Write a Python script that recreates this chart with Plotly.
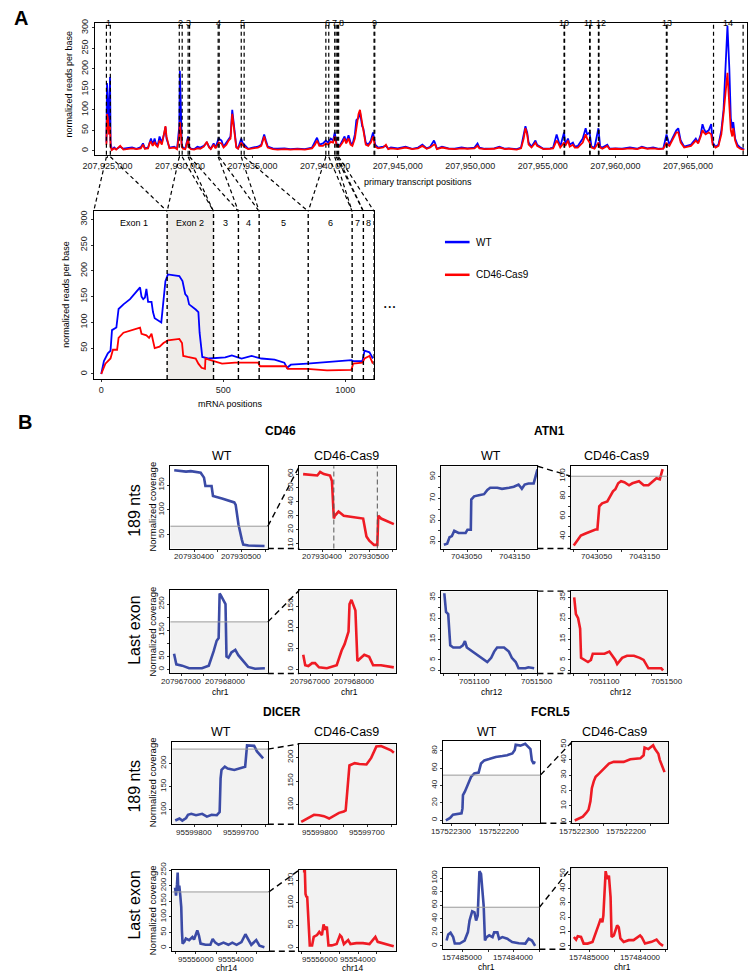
import plotly.graph_objects as go

W, H = 750, 974
FONT = "Liberation Sans, Arial, sans-serif"
BLUE_A = "#0000ff"
RED_A = "#ff0000"
BLUE_B = "#3b4ba6"
RED_B = "#ef1b24"
SHADE = "#f2f2f2"
EXON2_FILL = "#eeece9"
DASH = "4px,3px"

# ---------------- panel A, primary transcript (positions in kb past 207,900,000)
TOP_POS_KB = [
    24.93, 24.97, 25.03, 25.10, 25.18, 25.22, 25.30, 25.47, 25.60, 25.88,
    26.10, 26.40, 26.70, 27.00, 27.30, 27.45, 27.58, 27.80, 27.92, 28.00,
    28.12, 28.25, 28.32, 28.46, 28.59, 28.75, 28.93, 29.00, 29.07, 29.27,
    29.61, 29.80, 29.95, 29.99, 30.05, 30.12, 30.20, 30.36, 30.56, 30.62,
    30.76, 30.97, 31.20, 31.40, 31.64, 31.85, 32.00, 32.12, 32.32, 32.45,
    32.66, 32.86, 33.00, 33.20, 33.35, 33.48, 33.60, 33.72, 33.88, 34.00,
    34.22, 34.30, 34.42, 34.70, 35.00, 35.37, 35.60, 35.80, 35.92, 36.05,
    36.40, 36.73, 37.20, 37.60, 38.09, 38.60, 39.10, 39.30, 39.44, 39.60,
    39.85, 40.05, 40.20, 40.39, 40.55, 40.66, 40.80, 41.00, 41.20, 41.34,
    41.45, 41.61, 41.75, 41.88, 42.05, 42.15, 42.30, 42.40, 42.55, 42.63,
    42.80, 42.97, 43.15, 43.30, 43.45, 43.65, 44.00, 44.19, 44.35, 44.53,
    45.00, 45.54, 46.00, 46.40, 46.70, 47.00, 47.24, 47.50, 47.58, 47.70,
    48.05, 48.50, 48.93, 49.40, 49.80, 50.29, 50.50, 50.63, 51.00, 51.65,
    52.00, 52.40, 52.66, 53.20, 53.50, 53.68, 53.80, 53.92, 54.02, 54.22,
    54.49, 54.60, 55.04, 55.50, 55.71, 55.95, 56.05, 56.20, 56.46, 56.55,
    56.73, 56.85, 57.07, 57.20, 57.41, 57.75, 57.95, 58.05, 58.22, 58.35,
    58.56, 58.83, 58.95, 59.10, 59.44, 59.60, 60.00, 60.46, 61.00, 61.50,
    61.82, 62.20, 62.60, 63.00, 63.30, 63.52, 63.60, 63.72, 63.99, 64.20,
    64.33, 64.50, 64.74, 65.00, 65.21, 65.54, 65.70, 65.88, 66.00, 66.09,
    66.22, 66.43, 66.60, 66.70, 66.90, 67.10, 67.30, 67.45, 67.60, 67.72,
    67.85, 67.95, 68.05, 68.12, 68.25, 68.40, 68.60, 68.87,
]
TOP_WT = [
    20, 165, 120, 60, 180, 20, 3, 8, 4, 10,
    5, 6, 8, 5, 9, 18, 6, 8, 25, 30,
    15, 30, 20, 12, 35, 20, 45, 58, 30, 8,
    10, 5, 60, 195, 120, 15, 8, 5, 35, 10,
    5, 4, 10, 8, 12, 20, 10, 5, 18, 8,
    30, 25, 10, 20, 28, 35, 100, 60, 10, 6,
    30, 20, 15, 5, 8, 10, 15, 40, 25, 10,
    6, 5, 6, 4, 5, 4, 8, 20, 32, 15,
    18, 25, 20, 30, 25, 45, 15, 12, 25, 35,
    20, 38, 20, 15, 40, 75, 80, 95, 60, 55,
    20, 15, 25, 45, 15, 8, 10, 12, 5, 8,
    6, 10, 5, 8, 15, 6, 10, 25, 18, 5,
    10, 6, 5, 8, 6, 8, 18, 8, 5, 6,
    10, 5, 6, 4, 8, 35, 60, 45, 20, 10,
    25, 15, 5, 6, 8, 40, 30, 10, 45, 15,
    30, 15, 20, 10, 12, 30, 55, 40, 45, 10,
    8, 55, 10, 8, 15, 5, 6, 5, 8, 5,
    10, 6, 8, 5, 6, 40, 30, 15, 35, 50,
    55, 25, 10, 12, 15, 30, 20, 40, 65, 55,
    45, 50, 65, 20, 10, 15, 50, 100, 200, 305,
    200, 80, 55, 70, 30, 15, 8, 3,
]
TOP_CAS9 = [
    15, 90, 80, 40, 60, 10, 2, 6, 3, 12,
    3, 4, 6, 4, 6, 15, 5, 6, 20, 22,
    12, 22, 15, 10, 25, 15, 55, 60, 35, 6,
    8, 4, 40, 70, 50, 10, 5, 4, 30, 8,
    4, 3, 6, 5, 10, 22, 8, 4, 15, 6,
    20, 18, 8, 15, 25, 30, 90, 55, 8, 5,
    20, 15, 10, 4, 6, 8, 12, 35, 20, 8,
    4, 3, 4, 3, 4, 3, 6, 15, 25, 12,
    12, 18, 15, 22, 20, 35, 12, 10, 20, 30,
    18, 30, 15, 12, 30, 55, 90, 100, 70, 50,
    15, 12, 20, 35, 10, 6, 8, 15, 4, 6,
    4, 8, 4, 6, 12, 5, 8, 15, 15, 4,
    8, 5, 4, 6, 5, 6, 12, 6, 4, 5,
    8, 4, 5, 3, 6, 30, 55, 40, 15, 8,
    20, 12, 4, 5, 6, 25, 20, 8, 20, 12,
    25, 10, 15, 8, 8, 20, 40, 30, 20, 8,
    5, 20, 8, 5, 12, 4, 5, 4, 6, 4,
    8, 5, 6, 4, 5, 20, 15, 12, 30, 45,
    45, 20, 8, 10, 12, 25, 18, 35, 50, 45,
    40, 45, 40, 15, 8, 12, 40, 90, 150, 190,
    110, 50, 35, 55, 25, 10, 5, 2,
]
EXON_STARTS_KB = [24.93, 29.95, 30.56, 32.63, 34.22, 40.05, 40.66, 40.86, 43.37, 56.46, 58.22, 58.83, 63.51, 66.76]
EXON_ENDS_KB = [25.20, 30.15, 30.66, 32.70, 34.42, 40.25, 40.76, 40.93, 43.42, 56.50, 58.26, 58.87, 63.56, 68.80]
TOP_TICKS_KB = [25, 30, 35, 40, 45, 50, 55, 60, 65]
TOP_TICK_LABELS = ["207,925,000", "207,930,000", "207,935,000", "207,940,000", "207,945,000",
                   "207,950,000", "207,955,000", "207,960,000", "207,965,000"]
COV_TICKS = [0, 50, 100, 150, 200, 250, 300]

# ---------------- panel A, mRNA
MRNA_BOUNDS = [0, 270, 460, 562, 647, 848, 1028, 1074, 1118]
MRNA_LABELS = ["Exon 1", "Exon 2", "3", "4", "5", "6", "7", "8"]
MRNA_WT_POS = [0, 11, 27, 38, 44, 55, 62, 71, 91, 118, 145, 159, 165, 172, 179, 185, 192, 206, 212, 219,
               246, 255, 263, 273, 320, 333, 344, 353, 360, 387, 398, 403, 414, 441, 508, 535, 575, 616, 656, 710,
               750, 761, 777, 844, 911, 978, 1025, 1032, 1070, 1079, 1099, 1113]
MRNA_WT = [0, 25, 40, 45, 85, 88, 90, 126, 135, 145, 160, 168, 150, 145, 148, 165, 140, 140, 120, 108,
           100, 139, 180, 193, 190, 180, 155, 150, 135, 125, 120, 80, 33, 30, 32, 36, 30, 35, 30, 28,
           22, 12, 18, 20, 23, 25, 27, 25, 25, 45, 42, 30]
MRNA_CAS9_POS = [0, 17, 38, 48, 65, 71, 91, 125, 159, 165, 185, 196, 206, 212, 219, 239, 255, 273, 306, 320,
                 331, 336, 354, 387, 398, 411, 425, 427, 441, 495, 548, 602, 643, 650, 710, 757, 764, 844, 925, 1025,
                 1032, 1070, 1079, 1099, 1113]
MRNA_CAS9 = [0, 20, 30, 47, 47, 70, 80, 85, 90, 78, 75, 70, 78, 65, 50, 53, 60, 65, 68, 68,
             60, 35, 33, 30, 20, 12, 10, 30, 28, 20, 22, 22, 22, 15, 15, 15, 10, 10, 7, 8,
             20, 22, 30, 35, 20]

# ---------------- panel B
CD46_189_WT_POS = [207930358, 207930383, 207930393, 207930414, 207930421, 207930424, 207930437, 207930440,
                   207930459, 207930476, 207930485, 207930488, 207930494, 207930501, 207930504, 207930515, 207930549]
CD46_189_WT = [180, 177, 178, 175, 165, 148, 148, 128, 123, 118, 115, 110, 70, 40, 30, 28, 27]
CD46_189_CAS9_POS = [207930360, 207930390, 207930396, 207930404, 207930417, 207930421, 207930425, 207930427,
                     207930435, 207930446, 207930487, 207930494, 207930500, 207930510, 207930517, 207930519,
                     207930525, 207930546, 207930552]
CD46_189_CAS9 = [60, 59, 61.5, 60, 59, 55, 28, 30, 33, 30, 28, 15, 12, 9, 9, 30, 28, 25, 24]
CD46_189_MARKS = [207930425, 207930517]

CD46_LAST_WT_POS = [207966838, 207966889, 207967022, 207967178, 207967467, 207967622, 207967733, 207967800,
                    207967845, 207967867, 207967889, 207967956, 207968000, 207968022, 207968067, 207968133,
                    207968222, 207968289, 207968356, 207968511, 207968667, 207968889]
CD46_LAST_WT = [60, 20, 15, 5, 5, 15, 70, 110, 120, 290, 285, 260, 250, 50, 45, 65, 75, 55, 40, 10, 3, 5]
CD46_LAST_CAS9_POS = [207966844, 207966889, 207966960, 207967044, 207967111, 207967200, 207967378, 207967600,
                      207967711, 207967778, 207967867, 207967889, 207967933, 207967978, 207968022, 207968067,
                      207968111, 207968222, 207968333, 207968422, 207968600, 207968889]
CD46_LAST_CAS9 = [35, 10, 8, 15, 15, 5, 3, 10, 45, 60, 90, 155, 165, 150, 140, 20, 25, 35, 30, 10, 10, 5]

ATN1_189_WT_POS = [7043000, 7043007, 7043012, 7043017, 7043022, 7043027, 7043031, 7043040, 7043046, 7043050,
                   7043057, 7043058, 7043064, 7043074, 7043085, 7043092, 7043098, 7043113, 7043123, 7043138,
                   7043148, 7043158, 7043165, 7043171, 7043179, 7043190, 7043194, 7043198]
ATN1_189_WT = [27, 28, 34, 35, 40, 39, 38, 38, 38, 41, 41, 69, 72, 73, 74, 78, 80, 80, 79, 80,
               81, 83, 79, 83, 84, 84, 92, 97]
ATN1_189_CAS9_POS = [7043000, 7043008, 7043015, 7043025, 7043035, 7043046, 7043050, 7043054, 7043060, 7043071,
                     7043077, 7043083, 7043088, 7043094, 7043100, 7043107, 7043117, 7043124, 7043138, 7043148,
                     7043158, 7043169, 7043175, 7043182, 7043188]
ATN1_189_CAS9 = [31, 36, 41, 43, 45, 47, 47, 70, 73, 75, 80, 85, 87, 93, 95, 94, 91, 93, 95, 91,
                 91, 96, 98, 97, 107]

ATN1_LAST_WT_POS = [7050906, 7050917, 7050931, 7050944, 7050963, 7050988, 7051006, 7051025, 7051038, 7051050,
                    7051088, 7051131, 7051163, 7051181, 7051206, 7051225, 7051244, 7051288, 7051319, 7051338,
                    7051363, 7051381, 7051425, 7051444, 7051481]
ATN1_LAST_WT = [37, 28, 27, 12, 11, 11, 11, 12, 14, 11, 9, 7, 5, 4, 6, 9, 11, 11, 9, 6, 4, 1, 1, 1.5, 1]
ATN1_LAST_CAS9_POS = [7050906, 7050917, 7050931, 7050944, 7050950, 7050975, 7050994, 7051013, 7051025, 7051056,
                      7051100, 7051131, 7051150, 7051169, 7051181, 7051213, 7051244, 7051288, 7051325, 7051350,
                      7051381, 7051431, 7051463, 7051475]
ATN1_LAST_CAS9 = [35, 27, 25, 20, 6, 5, 4, 5, 8, 8, 8, 9, 7, 5, 3, 6, 7, 7, 6, 5, 1, 1, 1, 0]

DICER_189_WT_POS = [95599840, 95599831, 95599825, 95599817, 95599813, 95599806, 95599796, 95599783, 95599773,
                    95599763, 95599752, 95599746, 95599744, 95599742, 95599735, 95599729, 95599715, 95599702,
                    95599692, 95599688, 95599673, 95599667, 95599660, 95599654]
DICER_189_WT = [76.5, 81, 76.5, 82, 89, 91, 88, 91, 85, 89, 88, 95, 168, 186, 193, 189, 186, 190,
                193, 239, 238, 226, 218, 211]
DICER_189_CAS9_POS = [95599840, 95599831, 95599821, 95599813, 95599802, 95599792, 95599781, 95599771, 95599760,
                      95599750, 95599746, 95599742, 95599740, 95599738, 95599727, 95599717, 95599702, 95599692,
                      95599681, 95599671, 95599650, 95599644]
DICER_189_CAS9 = [64, 69, 73, 79, 78, 76, 71, 77, 83, 86, 88, 135, 162, 183, 188, 186, 185, 199,
                  223, 224, 215, 210]

DICER_LAST_WT_POS = [95557012, 95556964, 95556915, 95556883, 95556851, 95556803, 95556755, 95556707, 95556675,
                     95556642, 95556562, 95556482, 95556321, 95556161, 95556080, 95555920, 95555839, 95555759,
                     95555518, 95555277, 95555165, 95555036, 95554876, 95554635, 95554394, 95554201, 95553993,
                     95553752, 95553559, 95553430, 95553270, 95553029, 95552868, 95552627]
DICER_LAST_WT = [194, 168, 205, 242, 184, 200, 168, 131, 56, 14, 19, 30, 25, 35, 27, 56, 40, 14,
                 10, 10, 29, 17, 10, 17, 10, 17, 10, 19, 44, 27, 10, 25, 7, 2]
DICER_LAST_CAS9_POS = [95556920, 95556816, 95556781, 95556729, 95556694, 95556642, 95556556, 95556434, 95556347,
                       95556174, 95556052, 95555913, 95555826, 95555740, 95555653, 95555566, 95555392, 95555132,
                       95554958, 95554872, 95554750, 95554524, 95554403, 95554090, 95553743, 95553396, 95553084,
                       95552962, 95552632, 95552268, 95552111]
DICER_LAST_CAS9 = [171, 171, 120, 113, 115, 76, 5, 5, 24, 28, 35, 28, 52, 40, 47, 5, 5, 8,
                   28, 24, 8, 17, 8, 10, 10, 8, 24, 13, 10, 5, 3]

FCRL5_189_WT_POS = [157522312, 157522303, 157522297, 157522286, 157522279, 157522277, 157522276, 157522272,
                    157522268, 157522265, 157522259, 157522252, 157522243, 157522238, 157522231, 157522221,
                    157522207, 157522193, 157522183, 157522172, 157522167, 157522165, 157522155, 157522145,
                    157522139, 157522134, 157522131, 157522127, 157522125]
FCRL5_189_WT = [0, 2.7, 6.5, 7, 8, 13.7, 29, 33, 38, 43, 50, 54, 55, 65.5, 69, 70.5, 73, 74, 75, 77,
                81, 87, 86, 88, 85, 82, 69, 65, 68]
FCRL5_189_CAS9_POS = [157522310, 157522300, 157522293, 157522286, 157522281, 157522277, 157522274, 157522270,
                      157522266, 157522259, 157522252, 157522245, 157522238, 157522228, 157522207, 157522193,
                      157522172, 157522165, 157522163, 157522155, 157522145, 157522141, 157522134, 157522131,
                      157522125, 157522121]
FCRL5_189_CAS9 = [0.5, 1.7, 3, 5.4, 7.5, 13, 21.5, 26, 29, 31, 33, 35.5, 37.6, 38.7, 38.7, 40.4, 41, 43,
                  48, 47, 49.5, 47, 44, 40, 35.5, 32]

FCRL5_LAST_WT_POS = [157485323, 157485290, 157485245, 157485193, 157485161, 157485064, 157484968, 157484903,
                     157484871, 157484819, 157484774, 157484742, 157484710, 157484677, 157484645, 157484613,
                     157484593, 157484568, 157484535, 157484484, 157484419, 157484387, 157484323, 157484290,
                     157484226, 157484129, 157484032, 157483903, 157483774, 157483710, 157483645, 157483581]
FCRL5_LAST_WT = [8, 17, 19.5, 13, 3.5, 3.5, 8, 20.4, 37.5, 51, 49.5, 37.5, 45, 110, 106, 81, 59, 8,
                 13, 15.6, 13, 20, 20, 10.6, 13, 10.6, 5.7, 4, 3.5, 10.6, 8, 0]
FCRL5_LAST_CAS9_POS = [157485320, 157485275, 157485242, 157485177, 157485124, 157485046, 157484948, 157484882,
                       157484830, 157484784, 157484751, 157484732, 157484706, 157484686, 157484653, 157484621,
                       157484588, 157484568, 157484523, 157484457, 157484425, 157484392, 157484327, 157484228,
                       157484130, 157484000, 157483967, 157483902, 157483771, 157483672, 157483607, 157483542]
FCRL5_LAST_CAS9 = [6.2, 4.4, 6.7, 6.2, 1.6, 1.6, 2.8, 8.5, 14.3, 18.9, 16.5, 21, 38, 52, 46.5, 49, 34, 6.2,
                   7.3, 14.3, 13, 5.2, 2.8, 4, 4, 7.3, 6, 1.6, 2.8, 4.4, 1.6, 0]


def ticks(vals, shown=None):
    shown = vals if shown is None else shown
    return vals, [str(v) if v in shown else "" for v in vals]


# panel layout: box (left, top, right, bottom) in px, ranges, ticks, shading
PANELS = [
    dict(box=(161, 462, 260, 545), xr=[207930350, 207930556], yr=[22, 188],
         xt=ticks([207930400, 207930450, 207930500, 207930550], [207930400, 207930500]),
         yt=ticks([50, 100, 150]), x=CD46_189_WT_POS, y=CD46_189_WT, c=BLUE_B, cut=67),
    dict(box=(292, 462, 390, 545), xr=[207930352, 207930556], yr=[6.4, 65.7],
         xt=ticks([207930400, 207930450, 207930500, 207930550], [207930400, 207930500]),
         yt=ticks([10, 20, 30, 40, 50, 60]), x=CD46_189_CAS9_POS, y=CD46_189_CAS9, c=RED_B, cut=None),
    dict(box=(161, 587, 260, 671), xr=[207966756, 207968956], yr=[-15, 303],
         xt=ticks([207967000, 207967500, 207968000, 207968500], [207967000, 207968000]),
         yt=ticks([0, 50, 100, 150, 200, 250], [0, 50, 150, 250]), x=CD46_LAST_WT_POS, y=CD46_LAST_WT,
         c=BLUE_B, cut=182),
    dict(box=(292, 587, 390, 671), xr=[207966756, 207968933], yr=[-9.5, 188],
         xt=ticks([207967000, 207967500, 207968000, 207968500], [207967000, 207968000]),
         yt=ticks([0, 50, 100, 150]), x=CD46_LAST_CAS9_POS, y=CD46_LAST_CAS9, c=RED_B, cut=None),
    dict(box=(436, 462, 534, 545), xr=[7042994, 7043198], yr=[23.5, 100],
         xt=ticks([7043000, 7043050, 7043100, 7043150], [7043050, 7043150]),
         yt=ticks([30, 40, 50, 60, 70, 80, 90], [30, 50, 70, 90]), x=ATN1_189_WT_POS, y=ATN1_189_WT,
         c=BLUE_B, cut=None),
    dict(box=(568, 462, 666, 545), xr=[7042994, 7043198], yr=[28, 110],
         xt=ticks([7043000, 7043050, 7043100, 7043150], [7043050, 7043150]),
         yt=ticks([40, 50, 60, 70, 80, 90, 100], [40, 60, 80, 100]), x=ATN1_189_CAS9_POS, y=ATN1_189_CAS9,
         c=RED_B, cut=100),
    dict(box=(436, 588, 534, 671), xr=[7050885, 7051502], yr=[-1.5, 38],
         xt=ticks([7050900, 7051000, 7051100, 7051200, 7051300, 7051400, 7051500], [7051100, 7051500]),
         yt=ticks([0, 5, 10, 15, 20, 25, 30, 35], [0, 5, 15, 25, 35]), x=ATN1_LAST_WT_POS, y=ATN1_LAST_WT,
         c=BLUE_B, cut=None),
    dict(box=(568, 588, 666, 671), xr=[7050885, 7051502], yr=[-1.5, 38],
         xt=ticks([7050900, 7051000, 7051100, 7051200, 7051300, 7051400, 7051500], [7051100, 7051500]),
         yt=ticks([0, 5, 10, 15, 20, 25, 30, 35], [0, 5, 15, 25, 35]), x=ATN1_LAST_CAS9_POS, y=ATN1_LAST_CAS9,
         c=RED_B, cut=None),
    dict(box=(163, 740, 260, 823), xr=[95599846, 95599644], yr=[68.5, 246.5],
         xt=ticks([95599800, 95599750, 95599700, 95599650], [95599800, 95599700]),
         yt=ticks([100, 150, 200]), x=DICER_189_WT_POS, y=DICER_189_WT, c=BLUE_B, cut=231),
    dict(box=(292, 742, 390, 823), xr=[95599844, 95599640], yr=[59, 228.5],
         xt=ticks([95599800, 95599750, 95599700, 95599650], [95599800, 95599700]),
         yt=ticks([100, 150, 200]), x=DICER_189_CAS9_POS, y=DICER_189_CAS9, c=RED_B, cut=None),
    dict(box=(163, 869, 261, 951), xr=[95557142, 95552410], yr=[-10.5, 251],
         xt=ticks([95557000, 95556000, 95555000, 95554000, 95553000], [95556000, 95554000]),
         yt=ticks([0, 50, 100, 150, 200, 250]), x=DICER_LAST_WT_POS, y=DICER_LAST_WT, c=BLUE_B, cut=180),
    dict(box=(292, 869, 390, 951), xr=[95557109, 95552005], yr=[-8, 174],
         xt=ticks([95557000, 95556000, 95555000, 95554000, 95553000], [95556000, 95554000]),
         yt=ticks([0, 50, 100, 150]), x=DICER_LAST_CAS9_POS, y=DICER_LAST_CAS9, c=RED_B, cut=None),
    dict(box=(438, 739, 537, 822), xr=[157522318, 157522113], yr=[-3.4, 91.4],
         xt=ticks([157522300, 157522250, 157522200, 157522150], [157522300, 157522200]),
         yt=ticks([0, 20, 40, 60, 80]), x=FCRL5_189_WT_POS, y=FCRL5_189_WT, c=BLUE_B, cut=52),
    dict(box=(569, 740, 667, 822), xr=[157522316, 157522113], yr=[-1.3, 51.7],
         xt=ticks([157522300, 157522250, 157522200, 157522150], [157522300, 157522200]),
         yt=ticks([0, 10, 20, 30, 40, 50]), x=FCRL5_189_CAS9_POS, y=FCRL5_189_CAS9, c=RED_B, cut=None),
    dict(box=(438, 867, 536, 949), xr=[157485393, 157483497], yr=[-4.8, 115],
         xt=ticks([157485000, 157484500, 157484000, 157483500], [157485000, 157484000]),
         yt=ticks([0, 20, 40, 60, 80, 100]), x=FCRL5_LAST_WT_POS, y=FCRL5_LAST_WT, c=BLUE_B, cut=57),
    dict(box=(568, 867, 666, 949), xr=[157485378, 157483457], yr=[-2.3, 54.3],
         xt=ticks([157485000, 157484500, 157484000, 157483500], [157485000, 157484000]),
         yt=ticks([0, 10, 20, 30, 40, 50]), x=FCRL5_LAST_CAS9_POS, y=FCRL5_LAST_CAS9, c=RED_B, cut=None),
]

fig = go.Figure()
layout = {}
shapes = []
annotations = []
AXES = {}


def px(x):
    return x / W


def py(y):
    return 1 - y / H


def sfx(i):
    return "" if i == 1 else str(i)


def add_axes(i, box, xr, yr, xt, yt, fs=8, xlabels=True):
    l, t, r, b = box
    AXES[i] = (box, xr, yr)
    common = dict(showline=True, mirror=True, linecolor="black", linewidth=1, ticks="outside", ticklen=2,
                  tickwidth=1, tickcolor="#333", showgrid=False, zeroline=False,
                  tickfont=dict(size=fs, color="#222"), fixedrange=True)
    layout["xaxis" + sfx(i)] = dict(domain=[px(l), px(r)], range=xr, anchor="y" + sfx(i),
                                    tickvals=xt[0], ticktext=xt[1] if xlabels else [""] * len(xt[0]),
                                    tickangle=0, **common)
    layout["yaxis" + sfx(i)] = dict(domain=[py(b), py(t)], range=yr, anchor="x" + sfx(i),
                                    tickvals=yt[0], ticktext=yt[1], tickangle=-90, **common)
    if not xlabels:
        # x tick labels set close under the axis, as in the R original
        for v, s in zip(*xt):
            if s:
                annotations.append(dict(x=v, y=py(b + 8.5), xref="x" + sfx(i), yref="paper", text=s,
                                        showarrow=False, yanchor="middle",
                                        font=dict(size=fs, color="#222")))


def ypix(i, v):
    (l, t, r, b), xr, yr = AXES[i]
    return b - (v - yr[0]) / (yr[1] - yr[0]) * (b - t)


def xpix(i, v):
    (l, t, r, b), xr, yr = AXES[i]
    return l + (v - xr[0]) / (xr[1] - xr[0]) * (r - l)


def seg(x0, y0, x1, y1, dash=DASH, color="black", width=1.2):
    shapes.append(dict(type="line", xref="paper", yref="paper", x0=px(x0), y0=py(y0), x1=px(x1), y1=py(y1),
                       line=dict(color=color, width=width, dash=dash)))


def text(x, y, s, size, angle=0, xanchor="center", color="black"):
    annotations.append(dict(x=px(x), y=py(y), xref="paper", yref="paper", text=s, showarrow=False,
                            textangle=angle, xanchor=xanchor, yanchor="middle",
                            font=dict(size=size, color=color)))


# ---------------- A: primary transcript
add_axes(1, (84, 15, 747, 148), [24.12, 69.07], [-9.7, 312],
         (TOP_TICKS_KB, TOP_TICK_LABELS), (COV_TICKS, [str(v) for v in COV_TICKS]), fs=9)
for s, e in zip(EXON_STARTS_KB, EXON_ENDS_KB):
    for v in (s, e):
        shapes.append(dict(type="line", xref="x", yref="y domain", x0=v, x1=v, y0=0, y1=1,
                           line=dict(color="black", width=1.2, dash=DASH)))
fig.add_trace(go.Scatter(x=TOP_POS_KB, y=TOP_WT, mode="lines", line=dict(color=BLUE_A, width=1.8),
                         xaxis="x", yaxis="y", hoverinfo="skip"))
fig.add_trace(go.Scatter(x=TOP_POS_KB, y=TOP_CAS9, mode="lines", line=dict(color=RED_A, width=1.8),
                         xaxis="x", yaxis="y", hoverinfo="skip"))
label_shift = {6: -1, 7: 3, 10: -1, 11: 2}
for k, (s, e) in enumerate(zip(EXON_STARTS_KB, EXON_ENDS_KB)):
    annotations.append(dict(x=(s + e) / 2, y=py(8), xref="x", yref="paper", text=str(k + 1), showarrow=False,
                            xshift=label_shift.get(k, 0), font=dict(size=9, color="black")))

# ---------------- A: mRNA
add_axes(2, (83, 205, 368, 374), [-31, 1118], [-9.6, 315.4],
         ([0, 500, 1000], ["0", "500", "1000"]), (COV_TICKS, [str(v) for v in COV_TICKS]), fs=9)
shapes.append(dict(type="rect", xref="x2", yref="y2 domain", x0=MRNA_BOUNDS[1], x1=MRNA_BOUNDS[2], y0=0, y1=1,
                   fillcolor=EXON2_FILL, line=dict(width=0), layer="below"))
for v in MRNA_BOUNDS[1:]:
    shapes.append(dict(type="line", xref="x2", yref="y2 domain", x0=v, x1=v, y0=0, y1=1,
                       line=dict(color="black", width=1.4, dash=DASH)))
for k, lab in enumerate(MRNA_LABELS):
    annotations.append(dict(x=(MRNA_BOUNDS[k] + MRNA_BOUNDS[k + 1]) / 2, y=292, xref="x2", yref="y2",
                            text=lab, showarrow=False, font=dict(size=9, color="black")))
fig.add_trace(go.Scatter(x=MRNA_WT_POS, y=MRNA_WT, mode="lines", line=dict(color=BLUE_A, width=1.8),
                         xaxis="x2", yaxis="y2", hoverinfo="skip"))
fig.add_trace(go.Scatter(x=MRNA_CAS9_POS, y=MRNA_CAS9, mode="lines", line=dict(color=RED_A, width=1.8),
                         xaxis="x2", yaxis="y2", hoverinfo="skip"))

# connectors from the transcript exons to the mRNA exons
xr2 = AXES[2][1]
for k in range(len(MRNA_LABELS)):
    lo = xr2[0] if k == 0 else MRNA_BOUNDS[k]
    hi = xr2[1] if k == len(MRNA_LABELS) - 1 else MRNA_BOUNDS[k + 1]
    seg(xpix(1, EXON_STARTS_KB[k]), 150, xpix(2, lo), 205)
    seg(xpix(1, EXON_ENDS_KB[k]), 150, xpix(2, hi), 205)

# legend
seg(440, 236, 465, 236, dash="solid", color=BLUE_A, width=2.5)
seg(440, 269, 465, 269, dash="solid", color=RED_A, width=2.5)
text(470, 236, "WT", 10, xanchor="left")
text(470, 269, "CD46-Cas9", 10, xanchor="left")
text(384, 301, "• • •", 7)

text(9, 10, "<b>A</b>", 20)
text(58, 77, "normalized reads per base", 9, angle=-90)
text(55, 289, "normalized reads per base", 9, angle=-90)
text(413, 175, "primary transcript positions", 9)
text(222, 399, "mRNA positions", 9)

# ---------------- B
for n, p in enumerate(PANELS):
    i = n + 3
    add_axes(i, p["box"], p["xr"], p["yr"], p["xt"], p["yt"], xlabels=False)
    top = p["yr"][1] if p["cut"] is None else p["cut"]
    shapes.append(dict(type="rect", xref=f"x{i} domain", yref=f"y{i}", x0=0, x1=1, y0=p["yr"][0], y1=top,
                       fillcolor=SHADE, line=dict(width=0), layer="below"))
    if p["cut"] is not None:
        shapes.append(dict(type="line", xref=f"x{i} domain", yref=f"y{i}", x0=0, x1=1, y0=p["cut"],
                           y1=p["cut"], line=dict(color="#9a9a9a", width=1)))
    fig.add_trace(go.Scatter(x=p["x"], y=p["y"], mode="lines", line=dict(color=p["c"], width=2.6),
                             xaxis=f"x{i}", yaxis=f"y{i}", hoverinfo="skip"))

for v in CD46_189_MARKS:
    shapes.append(dict(type="line", xref="x4", yref="y4 domain", x0=v, x1=v, y0=0, y1=1,
                       line=dict(color="#555", width=1, dash="5px,3px")))

# zoom connectors WT -> CD46-Cas9
for n in range(0, len(PANELS), 2):
    wi, ci = n + 3, n + 4
    (wl, wt, wr, wb), _, _ = AXES[wi]
    (cl, ct, cr, cb), _, _ = AXES[ci]
    y0 = wt if PANELS[n]["cut"] is None else ypix(wi, PANELS[n]["cut"])
    y1 = ct if PANELS[n + 1]["cut"] is None else ypix(ci, PANELS[n + 1]["cut"])
    seg(wr, y0, cl, y1, dash="6px,4px", width=1.4)
    seg(wr, wb, cl, cb, dash="6px,4px", width=1.4)

text(13, 417, "<b>B</b>", 20)
text(273, 426, "<b>CD46</b>", 12)
text(546, 426, "<b>ATN1</b>", 12)
text(274, 710, "<b>DICER</b>", 12)
text(547, 710, "<b>FCRL5</b>", 12)
for x, lab in [(213, "WT"), (340, "CD46-Cas9"), (487, "WT"), (614, "CD46-Cas9")]:
    text(x, 452, lab, 12.5)
for x, lab in [(212, "WT"), (340, "CD46-Cas9"), (483, "WT"), (612, "CD46-Cas9")]:
    text(x, 730, lab, 12.5)
for y, lab in [(507, "189 nts"), (628, "Last exon"), (785, "189 nts"), (905, "Last exon")]:
    text(125, y, lab, 16, angle=-90)
for y in (503, 629, 781, 910):
    text(143, y, "Normalized coverage", 9.5, angle=-90)
for x, y, lab in [(212, 690, "chr1"), (343, 690, "chr1"), (488, 690, "chr12"), (619, 690, "chr12"),
                  (218, 967.5, "chr14"), (347, 967.5, "chr14"), (482, 967, "chr1"), (620, 967, "chr1")]:
    text(x, y, lab, 8.5)

fig.update_layout(**layout)
fig.update_layout(
    width=W, height=H, autosize=False, margin=dict(l=0, r=0, t=0, b=0),
    paper_bgcolor="white", plot_bgcolor="white", showlegend=False,
    font=dict(family=FONT, color="black"),
    shapes=shapes, annotations=annotations,
)
# the page must hold the 750x974 figure without the default body margin
fig.write_html("out.html", config={"displayModeBar": False},
               post_script="document.body.style.margin='0';document.body.style.overflow='hidden';")
